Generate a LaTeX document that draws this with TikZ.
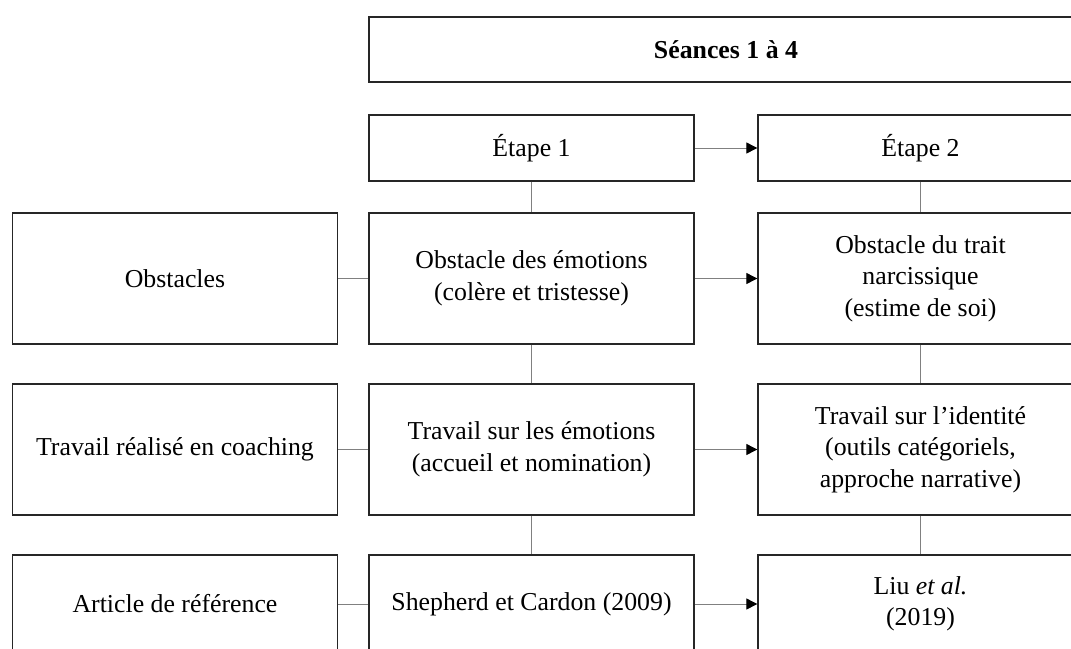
\documentclass[tikz,border=0pt]{standalone}
\usepackage{fontspec}
\setmainfont{Liberation Serif}
\usetikzlibrary{arrows.meta}
\tikzset{
  box/.style={draw=black!85, line width=1.3pt, minimum width=325pt, inner sep=0pt, align=center,
    font=\fontsize{25.8}{31.5}\selectfont},
  link/.style={draw=black!50, line width=0.9pt},
  arr/.style={link, -{Triangle[length=11pt,width=11pt,fill=black,color=black]}}
}
\begin{document}
\begin{tikzpicture}[x=1pt,y=-1pt]
\useasboundingbox (0,0) rectangle (1071,648);
\clip (0,0) rectangle (1071,648);
\fill[white] (0,0) rectangle (1071,648);
% header
\node[box, minimum width=714pt, minimum height=65pt, font=\fontsize{25.8}{31.5}\selectfont\bfseries] (top) at (726,49.5) {Séances 1 à 4};
\node[box, minimum height=66pt] (e1) at (531.5,148) {Étape 1};
\node[box, minimum height=66pt] (e2) at (920.5,148) {Étape 2};
% row 2
\node[box, minimum height=131pt] (l2) at (175,278.5) {Obstacles};
\node[box, minimum height=131pt] (m2) at (531.5,278.5) {Obstacle des émotions\\(colère et tristesse)};
\node[box, minimum height=131pt] (r2) at (920.5,278.5) {Obstacle du trait\\narcissique\\(estime de soi)};
% row 3
\node[box, minimum height=131pt] (l3) at (175,449.5) {Travail réalisé en coaching};
\node[box, minimum height=131pt] (m3) at (531.5,449.5) {Travail sur les émotions\\(accueil et nomination)};
\node[box, minimum height=131pt] (r3) at (920.5,449.5) {Travail sur l’identité\\(outils catégoriels,\\approche narrative)};
% row 4
\node[box, minimum height=98pt] (l4) at (175,604) {Article de référence};
\node[box, minimum height=98pt] (m4) at (531.5,604) {Shepherd et Cardon (2009)};
\node[box, minimum height=98pt] (r4) at (920.5,604) {Liu \textit{et al.}\\(2019)};
% vertical links
\draw[link] (e1.south) -- (m2.north);
\draw[link] (m2.south) -- (m3.north);
\draw[link] (m3.south) -- (m4.north);
\draw[link] (e2.south) -- (r2.north);
\draw[link] (r2.south) -- (r3.north);
\draw[link] (r3.south) -- (r4.north);
% horizontal links
\draw[link] (l2.east) -- (m2.west);
\draw[link] (l3.east) -- (m3.west);
\draw[link] (l4.east) -- (m4.west);
\draw[arr] (e1.east) -- (e2.west);
\draw[arr] (m2.east) -- (r2.west);
\draw[arr] (m3.east) -- (r3.west);
\draw[arr] (m4.east) -- (r4.west);
\end{tikzpicture}
\end{document}
